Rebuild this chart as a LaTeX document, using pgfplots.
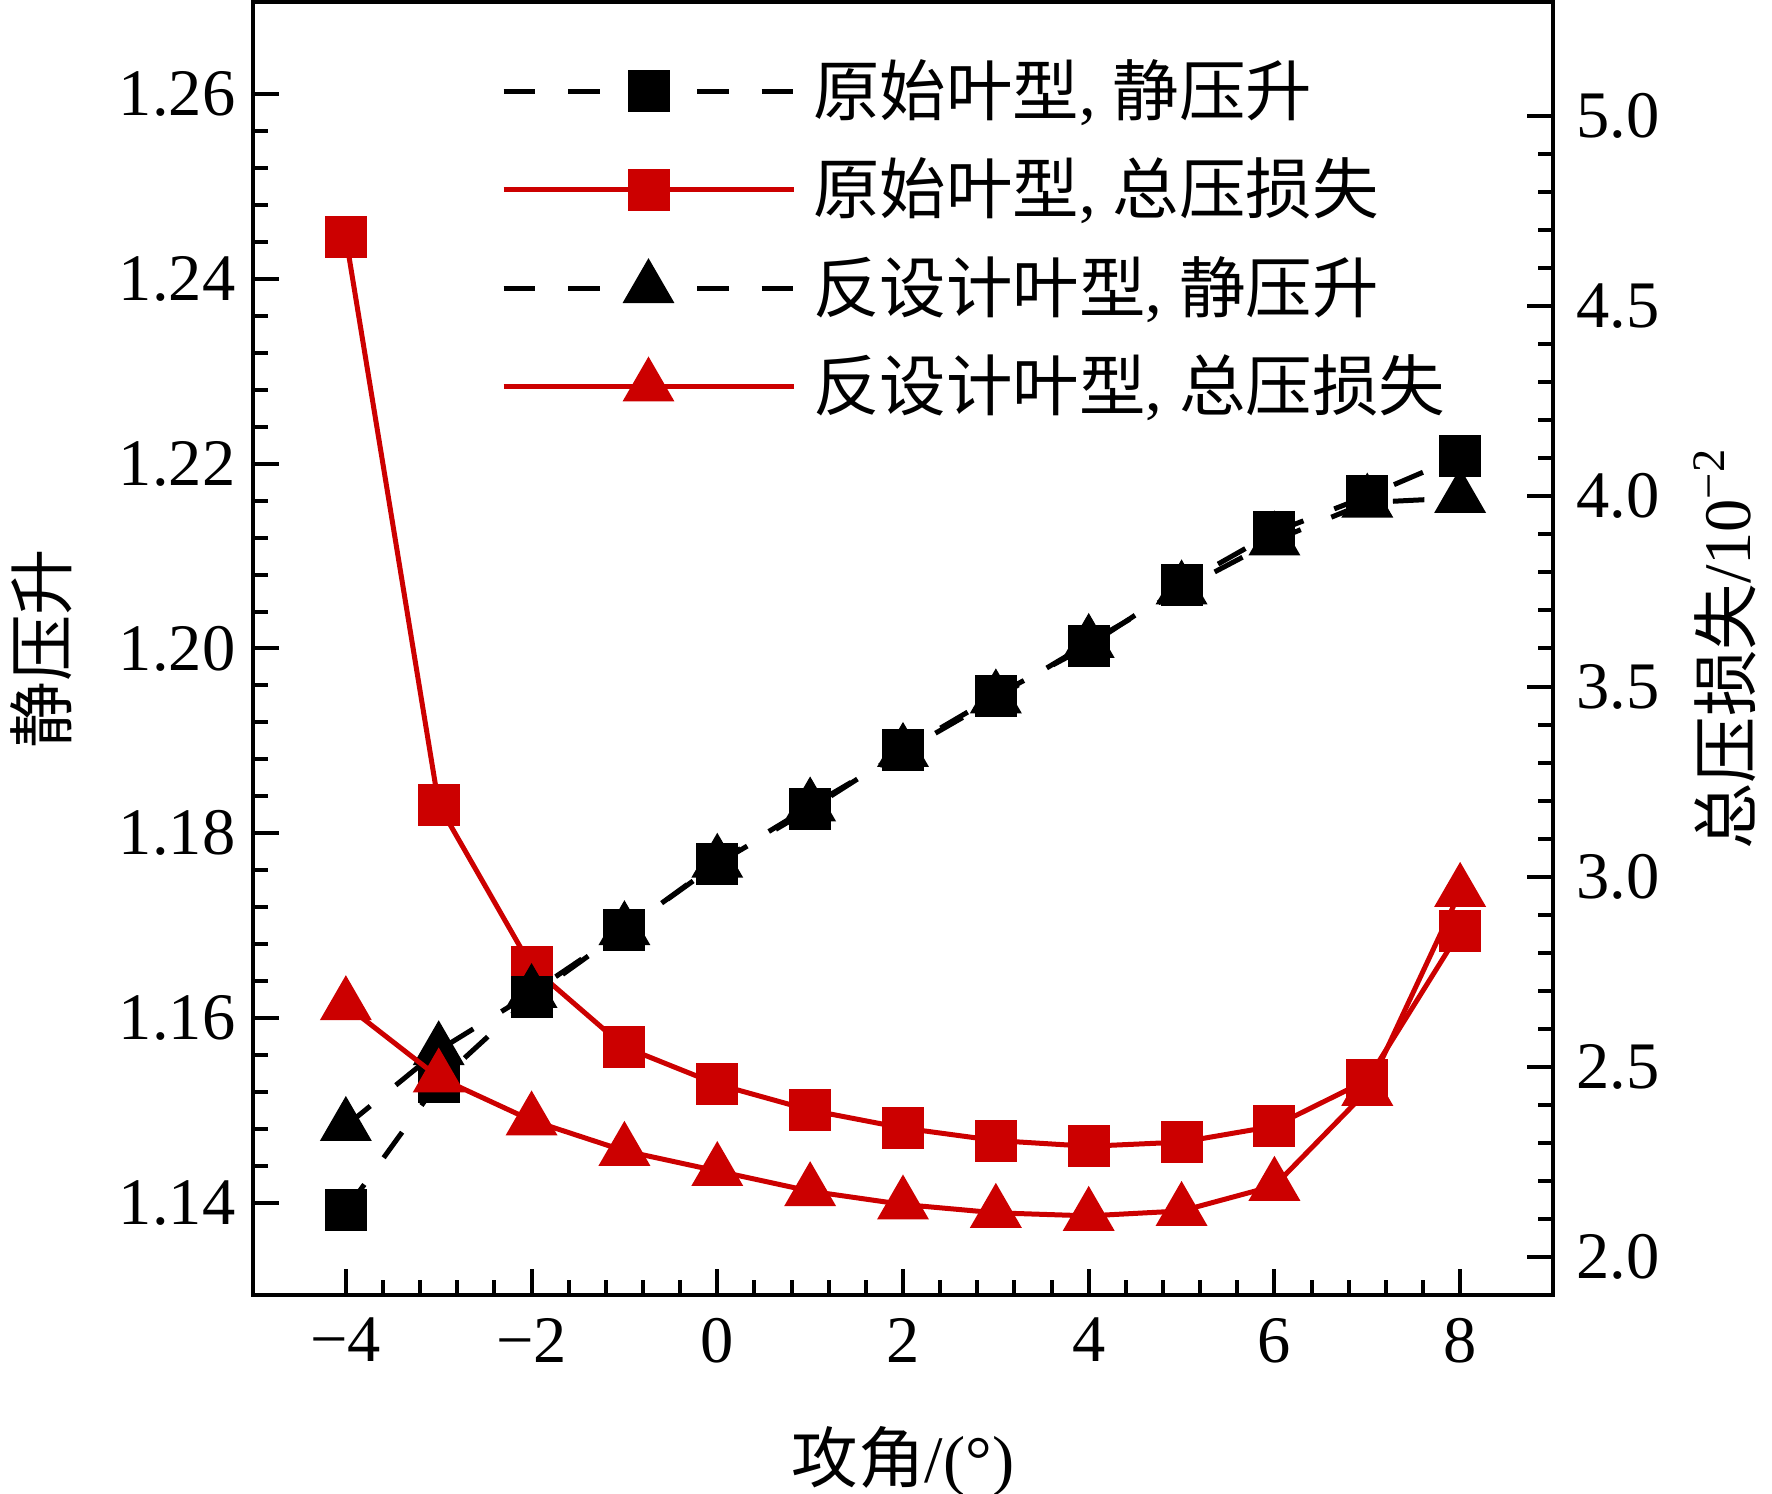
\documentclass[border=0pt]{standalone}
\usepackage{fontspec}
\setmainfont{Liberation Serif}
\newfontfamily\cjk{Noto Sans CJK SC}
\usepackage{pgfplots}
\pgfplotsset{compat=1.18}
\definecolor{myred}{RGB}{204,0,0}
\newcommand\fs{\fontsize{13.3}{16}\selectfont}

\pgfplotstableread{
x y
-4 1.1392
-3 1.1531
-2 1.1623
-1 1.1695
0 1.1767
1 1.1826
2 1.1890
3 1.1949
4 1.2003
5 1.2069
6 1.2126
7 1.2165
8 1.2208
}\origstatic

\pgfplotstableread{
x y
-4 1.1483
-3 1.1565
-2 1.1627
-1 1.1695
0 1.1768
1 1.1829
2 1.1888
3 1.1946
4 1.2006
5 1.2064
6 1.2117
7 1.2158
8 1.2163
}\invstatic

\pgfplotstableread{
x y
-4 4.681
-3 3.189
-2 2.763
-1 2.552
0 2.454
1 2.386
2 2.339
3 2.306
4 2.291
5 2.302
6 2.344
7 2.465
8 2.857
}\origloss

\pgfplotstableread{
x y
-4 2.662
-3 2.472
-2 2.359
-1 2.279
0 2.226
1 2.173
2 2.138
3 2.116
4 2.108
5 2.121
6 2.187
7 2.437
8 2.960
}\invloss

\pgfplotsset{
  base/.style={
    at={(0,0)}, anchor=south west, scale only axis,
    width=260pt, height=258.6pt,
    xmin=-5, xmax=9,
    tick align=inside,
    major tick length=5.2pt, minor tick length=3pt,
    every tick/.style={line width=0.8pt, black},
    axis line style={line width=0.9pt},
    tick label style={font=\fs},
  },
  rightax/.style={base, ymin=1.9, ymax=5.3},
  leftax/.style={base, ymin=1.13, ymax=1.27},
  sq/.style={mark=square*, mark size=3.7pt, mark options={solid}},
  tri/.style={mark=triangle*, mark size=5pt, mark options={solid}},
  blk/.style={black, line width=1pt, dash pattern=on 6.3pt off 6.6pt},
  rd/.style={myred, line width=1pt},
}

\begin{document}
\begin{tikzpicture}
\useasboundingbox (-50.6pt,-39.8pt) rectangle (303.8pt,259pt);

% right axis: original blade total pressure loss
\begin{axis}[rightax,
  axis x line=none, axis y line*=right,
  ytick={2.0,2.5,3.0,3.5,4.0,4.5,5.0},
  yticklabels={2.0,2.5,3.0,3.5,4.0,4.5,5.0},
  yticklabel style={xshift=1.2pt},
  minor y tick num=4,
  ylabel={{\cjk 总压损失}/10\textsuperscript{−2}},
  every axis y label/.style={at={(axis description cs:1.1323,0.5)}, rotate=90, anchor=center, font=\fs},
]
\addplot[rd, sq] table[x=x, y=y] {\origloss};
\end{axis}

% left axis: static pressure rise
\begin{axis}[leftax,
  xtick pos=left, ytick pos=left,
  xtick={-4,-2,0,2,4,6,8},
  xticklabels={−4,−2,0,2,4,6,8},
  xticklabel style={yshift=-1.1pt},
  minor x tick num=4,
  ytick={1.14,1.16,1.18,1.20,1.22,1.24,1.26},
  yticklabels={1.14,1.16,1.18,1.20,1.22,1.24,1.26},
  minor y tick num=4,
  xlabel={{\cjk 攻角}/(°)},
  ylabel={\cjk 静压升},
  every axis x label/.style={at={(axis description cs:0.5,-0.1286)}, anchor=center, font=\fs},
  every axis y label/.style={at={(axis description cs:-0.1630,0.5)}, rotate=90, anchor=center, font=\fs},
]
\addplot[blk, sq] table[x=x, y=y] {\origstatic};
\addplot[blk, tri] table[x=x, y=y] {\invstatic};
\end{axis}

% right scale again: inverse design total pressure loss, and legend
\begin{axis}[rightax, hide axis,
  legend style={at={(axis description cs:0.1900,0.964)}, anchor=north west,
    draw=none, fill=none, inner xsep=0pt, inner ysep=0pt, row sep=3.0pt,
    nodes={inner sep=2pt, text depth=0.15em}, font=\fs, cells={anchor=west}},
  legend image code/.code={\draw[mark repeat=2, mark phase=2, #1] plot coordinates {(0pt,0pt) (29pt,0pt) (58pt,0pt)}; \path (59.5pt,0pt);},
]
\addlegendimage{blk, sq}
\addlegendentry{{\cjk 原始叶型}, {\cjk 静压升}}
\addlegendimage{rd, sq}
\addlegendentry{{\cjk 原始叶型}, {\cjk 总压损失}}
\addlegendimage{blk, tri}
\addlegendentry{{\cjk 反设计叶型}, {\cjk 静压升}}
\addplot[rd, tri] table[x=x, y=y] {\invloss};
\addlegendentry{{\cjk 反设计叶型}, {\cjk 总压损失}}
\end{axis}
\end{tikzpicture}
\end{document}
